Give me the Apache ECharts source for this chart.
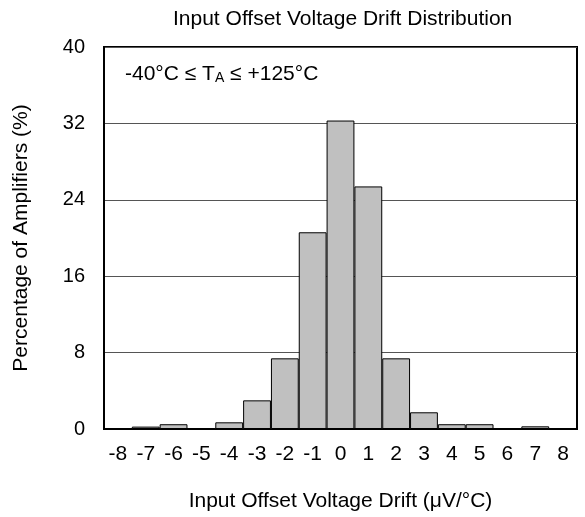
<!DOCTYPE html>
<html>
<head>
    <meta charset="utf-8">
    <title>Input Offset Voltage Drift Distribution</title>
    <script src="https://cdn.jsdelivr.net/npm/echarts@6/dist/echarts.min.js"></script>
    <style>
        body { margin: 0; background: #fff; }
        #main { width: 585px; height: 517px; }
    </style>
</head>
<body>
<div id="main"></div>
<script type="text/javascript">
    // histogram bins, uV/degC
    var driftBins = ['-8', '-7', '-6', '-5', '-4', '-3', '-2', '-1', '0', '1', '2', '3', '4', '5', '6', '7', '8'];
    // percentage of amplifiers per bin
    var percentValues = [0, 0.25, 0.5, 0, 0.7, 3.0, 7.4, 20.6, 32.3, 25.4, 7.4, 1.75, 0.5, 0.5, 0, 0.28, 0];
    var yTicks = [0, 8, 16, 24, 32, 40];

    var fontFamily = 'Arial, "Liberation Sans", sans-serif';
    var myChart = echarts.init(document.getElementById('main'));

    var option = {
        animation: false,
        title: {
            text: 'Input Offset Voltage Drift Distribution',
            left: 168,
            top: 4,
            textStyle: { fontFamily: fontFamily, fontSize: 21, fontWeight: 'normal', color: '#000' }
        },
        grid: {
            left: 104,
            right: 8,
            top: 47,
            bottom: 87,
            show: true,
            borderColor: '#000',
            borderWidth: 2,
            backgroundColor: '#fff'
        },
        xAxis: {
            type: 'category',
            data: driftBins,
            boundaryGap: true,
            name: 'Input Offset Voltage Drift (μV/°C)',
            nameLocation: 'middle',
            nameGap: 62,
            nameTextStyle: { fontFamily: fontFamily, fontSize: 21, color: '#000' },
            axisLine: { show: true, lineStyle: { color: '#000', width: 2 } },
            axisTick: { show: false },
            axisLabel: { fontFamily: fontFamily, fontSize: 21, color: '#000', margin: 15, interval: 0 }
        },
        yAxis: {
            type: 'value',
            min: yTicks[0],
            max: yTicks[yTicks.length - 1],
            interval: 8,
            name: 'Percentage of Amplifiers (%)',
            nameLocation: 'middle',
            nameGap: 72,
            nameTextStyle: { fontFamily: fontFamily, fontSize: 21, color: '#000' },
            axisLine: { show: true, lineStyle: { color: '#000', width: 2 } },
            axisTick: { show: false },
            axisLabel: { fontFamily: fontFamily, fontSize: 20, color: '#000', margin: 19 },
            splitLine: { show: true, lineStyle: { color: '#555', width: 1 } }
        },
        graphic: [{
            type: 'text',
            left: 125,
            top: 64,
            style: {
                text: '{m|-40°C ≤ T}{s|A}{m| ≤ +125°C}',
                rich: {
                    m: { fontFamily: fontFamily, fontSize: 21, fill: '#000', verticalAlign: 'bottom' },
                    s: { fontFamily: fontFamily, fontSize: 14, fill: '#000', padding: [10, 0, 0, 0] }
                }
            }
        }],
        series: [{
            name: 'Amplifiers',
            type: 'bar',
            data: percentValues,
            barWidth: '100%',
            itemStyle: { color: '#c0c0c0', borderColor: '#000', borderWidth: 1 }
        }]
    };
    myChart.setOption(option);
</script>
</body>
</html>
